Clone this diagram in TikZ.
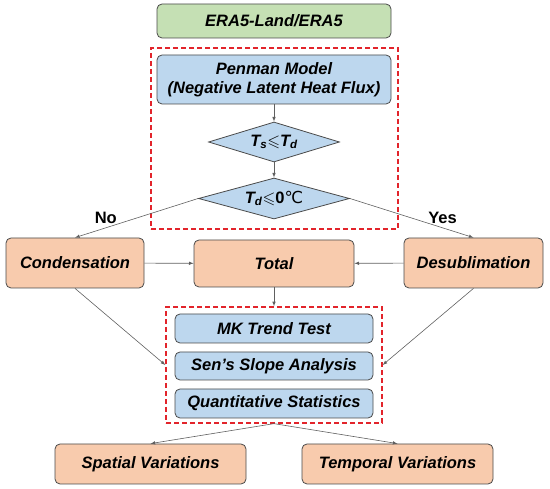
\documentclass[tikz,border=0pt]{standalone}
\usepackage{amsmath, amssymb}
\usepackage{fontspec}
\setmainfont{Liberation Sans}
\newfontfamily\dejavu{DejaVu Sans}
\usepackage{xcolor}
\usepackage{tikz}
\usetikzlibrary{calc, shapes.geometric, positioning}

\definecolor{boxgreen}{HTML}{C5E0B4}
\definecolor{boxblue}{HTML}{BDD7EE}
\definecolor{boxorange}{HTML}{F8CBAD}
\definecolor{lineborder}{HTML}{4A4A4A}
\definecolor{linkgray}{HTML}{606060}
\definecolor{dashred}{HTML}{E2242B}

\begin{document}
\begin{tikzpicture}[>=latex, x=1pt, y=-1pt,
    every node/.style={font=\fontsize{16.5}{19}\selectfont\bfseries\itshape},
    stepbox/.style={draw=lineborder, line width=0.8pt, rounded corners=5pt,
        inner sep=0pt, align=center},
    databox/.style={stepbox, fill=boxgreen},
    modelbox/.style={stepbox, fill=boxblue},
    resultbox/.style={stepbox, fill=boxorange},
    testbox/.style={diamond, draw=lineborder, line width=0.8pt, fill=boxblue,
        inner sep=0pt, aspect=3.3},
    groupbox/.style={draw=dashred, line width=1.3pt, dash pattern=on 5pt off 3pt,
        inner sep=0pt},
    link/.style={->, draw=linkgray, line width=0.6pt},
    answer/.style={font=\fontsize{16.5}{19}\selectfont\bfseries}]
    \useasboundingbox (0,0) rectangle (550,489);

    % 1. Nguon du lieu va mo hinh
    \node[groupbox, minimum width=247, minimum height=181] (grpA) at (274.5,138.5) {};
    \node[databox, minimum width=234, minimum height=34] (era) at (274,21) {ERA5-Land/ERA5};
    \node[modelbox, minimum width=234, minimum height=49] (penman) at (274,79.5)
        {Penman Model\\(Negative Latent Heat Flux)};
    \node[testbox, minimum width=131, minimum height=40] (tsd) at (274,142)
        {T\textsubscript{s}$\leqslant$T\textsubscript{d}};
    \node[testbox, minimum width=151, minimum height=41] (tdz) at (274,198.5)
        {T\textsubscript{d}$\leqslant$\upshape 0{\dejavu\mdseries ℃}};

    % 2. Ket qua
    \node[resultbox, minimum width=138, minimum height=50] (cond) at (75,263) {Condensation};
    \node[resultbox, minimum width=160, minimum height=47] (total) at (274,263.5) {Total};
    \node[resultbox, minimum width=139, minimum height=50] (desub) at (473.5,263) {Desublimation};

    % 3. Phan tich xu huong
    \node[groupbox, minimum width=216, minimum height=116] (grpB) at (274,365) {};
    \node[modelbox, minimum width=198, minimum height=29] (mk) at (274,328.5) {MK Trend Test};
    \node[modelbox, minimum width=198, minimum height=28] (sen) at (274,366) {Sen’s Slope Analysis};
    \node[modelbox, minimum width=198, minimum height=29] (quant) at (274,403.5) {Quantitative Statistics};
    \node[resultbox, minimum width=191, minimum height=40] (spat) at (150.5,464) {Spatial Variations};
    \node[resultbox, minimum width=191, minimum height=40] (temp) at (397.5,464) {Temporal Variations};

    % 4. Mui ten
    \draw[link] (penman) -- (tsd);
    \draw[link] (tsd) -- (tdz);
    \draw[link] (tdz.west) -- (cond.north) node[answer, pos=0.75, above=1pt] {No};
    \draw[link] (tdz.east) -- (desub.north) node[answer, pos=0.75, above=1pt] {Yes};
    \draw[link] (cond) -- (total);
    \draw[link] (desub) -- (total);
    \draw[link] (total) -- (grpB);
    \draw[link] (cond.south) -- (grpB.west);
    \draw[link] (desub.south) -- (grpB.east);
    \draw[link] (grpB.south) -- (spat.north);
    \draw[link] (grpB.south) -- (temp.north);
\end{tikzpicture}
\end{document}
